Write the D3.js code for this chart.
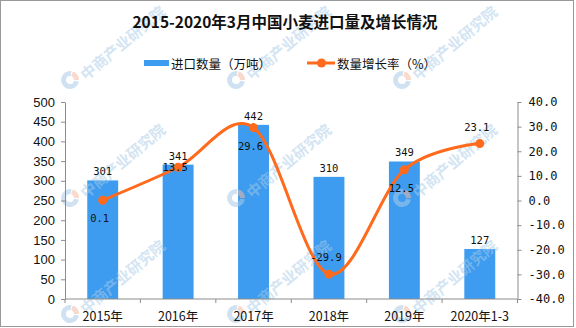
<!DOCTYPE html>
<html>
<head>
<meta charset="utf-8">
<script src="https://cdn.jsdelivr.net/npm/d3@7/dist/d3.min.js"></script>
<style>
  html, body { margin: 0; padding: 0; background: #fff; }
  svg { display: block; }
</style>
</head>
<body>
<svg id="chart" width="576" height="328"></svg>
<script>
// 2015-2020年3月中国小麦进口量及增长情况
const categories = ["2015年", "2016年", "2017年", "2018年", "2019年", "2020年1-3"];
const importVolume = [301, 341, 442, 310, 349, 127];      // 万吨
const growthRate = [0.1, 13.5, 29.6, -29.9, 12.5, 23.1];  // %
const leftTicks = [0, 50, 100, 150, 200, 250, 300, 350, 400, 450, 500];
const rightTicks = [-40, -30, -20, -10, 0, 10, 20, 30, 40];

// where each growth label sits relative to its point
const growthLabelSide = ["below", "center", "below", "above", "below", "above"];

const title = "2015-2020年3月中国小麦进口量及增长情况";
const legendBar = "进口数量（万吨）";
const legendLine = "数量增长率（%）";

const barColor = "#3d9cf0";
const lineColor = "#ff6a1c";
const axisColor = "#8c8c8c";
const cjk = "'Noto Sans CJK SC', 'Noto Sans', sans-serif";
const mono = "'DejaVu Sans Mono', 'Liberation Mono', monospace";

const svg = d3.select("#chart");
const W = 576, H = 328;
const plot = { left: 65, right: 517.5, top: 102, bottom: 299 };

svg.append("rect").attr("width", W).attr("height", H).attr("fill", "#fff");

const x = d3.scaleBand()
  .domain(categories)
  .range([plot.left, plot.right])
  .paddingInner(0.59)
  .paddingOuter(0.295);

const yL = d3.scaleLinear().domain([0, 500]).range([plot.bottom, plot.top]);
const yR = d3.scaleLinear().domain([-40, 40]).range([plot.bottom, plot.top]);
const cx = c => x(c) + x.bandwidth() / 2;

// bars
svg.append("g").selectAll("rect")
  .data(categories)
  .join("rect")
  .attr("x", d => x(d))
  .attr("y", (d, i) => yL(importVolume[i]))
  .attr("width", x.bandwidth())
  .attr("height", (d, i) => plot.bottom - yL(importVolume[i]))
  .attr("fill", barColor);

// faint publisher watermark, tiled inside the frame (over the bars, under the line)
const mark = svg.append("g").attr("pointer-events", "none");
const markCols = [70, 236, 402];
const markRows = [80, 198, 314];
const arc = d3.arc();
markRows.forEach(my => markCols.forEach(mx => {
  const g = mark.append("g").attr("transform", `translate(${mx},${my})`);
  g.append("path")
    .attr("d", arc({ innerRadius: 4, outerRadius: 9, startAngle: Math.PI * 0.55, endAngle: Math.PI * 2.05 }))
    .attr("fill", "#a9cbe8").attr("opacity", 0.55);
  g.append("path")
    .attr("d", arc({ innerRadius: 4, outerRadius: 9, startAngle: Math.PI * 0.1, endAngle: Math.PI * 0.5 }))
    .attr("fill", "#f4b9a0").attr("opacity", 0.55);
  g.append("text")
    .attr("transform", "translate(12,-4) rotate(-40)")
    .attr("dominant-baseline", "central")
    .attr("font-family", cjk)
    .attr("font-weight", "bold")
    .attr("font-size", 15)
    .attr("fill", "#a9cbe8")
    .attr("opacity", 0.5)
    .text("中商产业研究院");
}));

// bar value labels
svg.append("g").selectAll("text")
  .data(categories)
  .join("text")
  .attr("x", d => cx(d))
  .attr("y", (d, i) => yL(importVolume[i]) - 5)
  .attr("text-anchor", "middle")
  .attr("font-family", mono)
  .attr("font-size", 10.5)
  .attr("fill", "#111")
  .text((d, i) => importVolume[i]);

// left axis
const axL = svg.append("g")
  .attr("transform", `translate(${plot.left},0)`)
  .call(d3.axisLeft(yL).tickValues(leftTicks).tickSize(4).tickSizeOuter(0).tickPadding(6));
axL.selectAll("text").attr("font-family", "'Liberation Sans', Arial, sans-serif").attr("font-size", 13).attr("fill", "#111");

// right axis
const axR = svg.append("g")
  .attr("transform", `translate(${plot.right},0)`)
  .call(d3.axisRight(yR).tickValues(rightTicks).tickSize(4).tickSizeOuter(0).tickPadding(7)
    .tickFormat(v => v.toFixed(1)));
axR.selectAll("text").attr("font-family", mono).attr("font-size", 12).attr("fill", "#111");

// bottom axis: ticks on the category boundaries
const bottomG = svg.append("g").attr("transform", `translate(0,${plot.bottom})`);
bottomG.append("line")
  .attr("x1", plot.left).attr("x2", plot.right)
  .attr("stroke", axisColor);
const boundaries = categories.map(c => x(c) - x.step() * x.paddingInner() / 2).concat([plot.right]);
bottomG.selectAll("line.tick")
  .data(boundaries)
  .join("line")
  .attr("class", "tick")
  .attr("x1", d => d).attr("x2", d => d)
  .attr("y1", 0).attr("y2", 4)
  .attr("stroke", axisColor);
bottomG.selectAll("text")
  .data(categories)
  .join("text")
  .attr("x", d => cx(d))
  .attr("y", 16)
  .attr("dominant-baseline", "central")
  .attr("text-anchor", "middle")
  .attr("font-family", cjk)
  .attr("font-size", 12.5)
  .attr("fill", "#111")
  .text(d => d);

[axL, axR].forEach(g => {
  g.select(".domain").attr("stroke", axisColor);
  g.selectAll(".tick line").attr("stroke", axisColor);
});

// growth line
const line = d3.line()
  .x((d, i) => cx(categories[i]))
  .y(d => yR(d))
  .curve(d3.curveCardinal.tension(0));

svg.append("path")
  .datum(growthRate)
  .attr("d", line)
  .attr("fill", "none")
  .attr("stroke", lineColor)
  .attr("stroke-width", 3)
  .attr("stroke-linejoin", "round");

svg.append("g").selectAll("circle")
  .data(growthRate)
  .join("circle")
  .attr("cx", (d, i) => cx(categories[i]))
  .attr("cy", d => yR(d))
  .attr("r", 4.5)
  .attr("fill", lineColor);

const sideShift = { below: 18, center: 0, above: -17 };
svg.append("g").selectAll("text")
  .data(growthRate)
  .join("text")
  .attr("x", (d, i) => cx(categories[i]) - 3)
  .attr("y", (d, i) => yR(d) + sideShift[growthLabelSide[i]])
  .attr("dominant-baseline", "central")
  .attr("text-anchor", "middle")
  .attr("font-family", mono)
  .attr("font-size", 10.5)
  .attr("fill", "#111")
  .text(d => d.toFixed(1));

// title
svg.append("text")
  .attr("x", 285).attr("y", 21)
  .attr("dominant-baseline", "central")
  .attr("text-anchor", "middle")
  .attr("font-family", cjk)
  .attr("font-weight", "bold")
  .attr("font-size", 15.5)
  .attr("fill", "#111")
  .text(title);

// legend
const lg = svg.append("g").attr("font-family", cjk).attr("font-size", 12.5).attr("fill", "#111");
lg.append("rect").attr("x", 144).attr("y", 60).attr("width", 25).attr("height", 6).attr("fill", barColor);
lg.append("text").attr("x", 171).attr("y", 63).attr("dominant-baseline", "central").text(legendBar);
lg.append("line").attr("x1", 307).attr("x2", 335).attr("y1", 63).attr("y2", 63)
  .attr("stroke", lineColor).attr("stroke-width", 3);
lg.append("circle").attr("cx", 321.5).attr("cy", 63).attr("r", 4.5).attr("fill", lineColor);
lg.append("text").attr("x", 337).attr("y", 63).attr("dominant-baseline", "central").text(legendLine);

// frame
svg.append("rect")
  .attr("x", 0.5).attr("y", 0.5).attr("width", 573).attr("height", 326)
  .attr("fill", "none").attr("stroke", "#999");
</script>
</body>
</html>
